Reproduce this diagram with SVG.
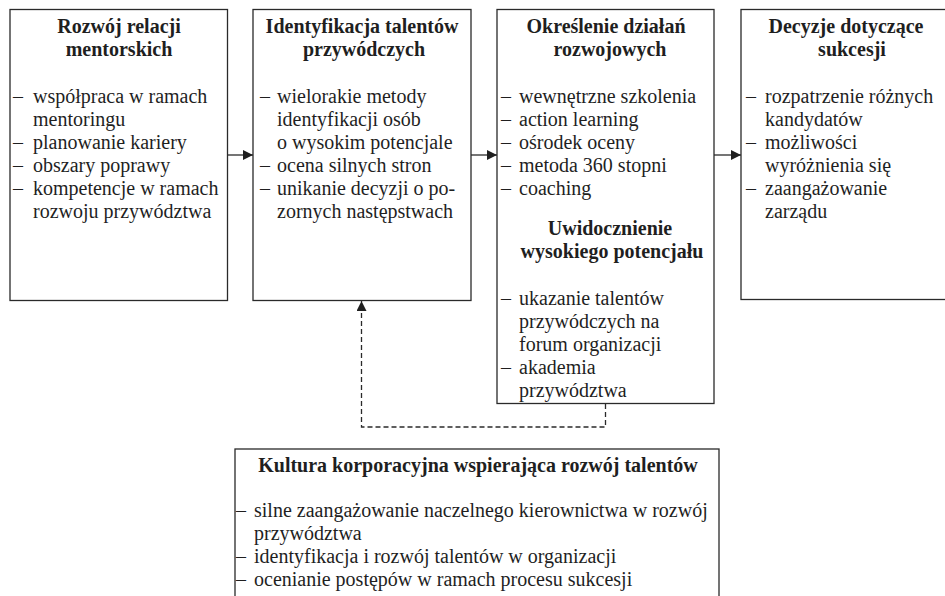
<svg xmlns="http://www.w3.org/2000/svg" width="945" height="596" viewBox="0 0 945 596">
<defs>
<style>
.box{fill:#fff;stroke:#2a2a2a;stroke-width:1.3}
text{font-family:"Liberation Serif","Times New Roman",serif;font-size:20px;fill:#1f1f1f}
.t{font-weight:bold;text-anchor:middle}
.conn{fill:none;stroke:#2a2a2a;stroke-width:1.3}
.dash{stroke-dasharray:5 3}
</style>
<marker id="ah" viewBox="0 0 10 10" refX="10" refY="5" markerWidth="10" markerHeight="10" markerUnits="userSpaceOnUse" orient="auto">
<path d="M0,0 L10,5 L0,10 z" fill="#1f1f1f"/>
</marker>
</defs>
<rect width="945" height="596" fill="#fff"/>

<g id="connectors">
<line class="conn" x1="227.5" y1="155" x2="253" y2="155" marker-end="url(#ah)"/>
<line class="conn" x1="471" y1="155" x2="497" y2="155" marker-end="url(#ah)"/>
<line class="conn" x1="714" y1="155" x2="741" y2="155" marker-end="url(#ah)"/>
<polyline class="conn dash" points="605.5,404 605.5,427 361.5,427 361.5,301" marker-end="url(#ah)"/>
</g>

<g id="node1">
<rect class="box" x="10" y="9.5" width="217.5" height="291"/>
<text class="t" x="119" y="33">Rozwój relacji</text>
<text class="t" x="119" y="56">mentorskich</text>
<text x="13" y="103">–</text><text x="33" y="103">współpraca w ramach</text>
<text x="33" y="126">mentoringu</text>
<text x="13" y="149">–</text><text x="33" y="149">planowanie kariery</text>
<text x="13" y="172">–</text><text x="33" y="172">obszary poprawy</text>
<text x="13" y="195">–</text><text x="33" y="195">kompetencje w ramach</text>
<text x="33" y="218">rozwoju przywództwa</text>
</g>

<g id="node2">
<rect class="box" x="253" y="9.5" width="218" height="291"/>
<text class="t" x="362" y="33">Identyfikacja talentów</text>
<text class="t" x="364" y="56">przywódczych</text>
<text x="260" y="103">–</text><text x="277" y="103">wielorakie metody</text>
<text x="277" y="126">identyfikacji osób</text>
<text x="277" y="149">o wysokim potencjale</text>
<text x="260" y="172">–</text><text x="277" y="172">ocena silnych stron</text>
<text x="260" y="195">–</text><text x="277" y="195">unikanie decyzji o po-</text>
<text x="277" y="218">zornych następstwach</text>
</g>

<g id="node3">
<rect class="box" x="497" y="9.5" width="217" height="394"/>
<text class="t" x="606" y="33">Określenie działań</text>
<text class="t" x="610" y="56">rozwojowych</text>
<text x="501" y="103">–</text><text x="519" y="103">wewnętrzne szkolenia</text>
<text x="501" y="126">–</text><text x="519" y="126">action learning</text>
<text x="501" y="149">–</text><text x="519" y="149">ośrodek oceny</text>
<text x="501" y="172">–</text><text x="519" y="172">metoda 360 stopni</text>
<text x="501" y="195">–</text><text x="519" y="195">coaching</text>
<text class="t" x="610" y="235">Uwidocznienie</text>
<text class="t" x="612" y="258">wysokiego potencjału</text>
<text x="501" y="305">–</text><text x="519" y="305">ukazanie talentów</text>
<text x="519" y="328">przywódczych na</text>
<text x="519" y="351">forum organizacji</text>
<text x="501" y="374">–</text><text x="519" y="374">akademia</text>
<text x="519" y="397">przywództwa</text>
</g>

<g id="node4">
<rect class="box" x="741" y="9.5" width="210" height="290"/>
<text class="t" x="846" y="33">Decyzje dotyczące</text>
<text class="t" x="852" y="56">sukcesji</text>
<text x="746" y="103">–</text><text x="765" y="103">rozpatrzenie różnych</text>
<text x="765" y="126">kandydatów</text>
<text x="746" y="149">–</text><text x="765" y="149">możliwości</text>
<text x="765" y="172">wyróżnienia się</text>
<text x="746" y="195">–</text><text x="765" y="195">zaangażowanie</text>
<text x="765" y="218">zarządu</text>
</g>

<g id="node5">
<rect class="box" x="235" y="449" width="484" height="160"/>
<text class="t" x="478" y="472">Kultura korporacyjna wspierająca rozwój talentów</text>
<text x="236" y="517">–</text><text x="254" y="517">silne zaangażowanie naczelnego kierownictwa w rozwój</text>
<text x="254" y="540">przywództwa</text>
<text x="236" y="563">–</text><text x="254" y="563">identyfikacja i rozwój talentów w organizacji</text>
<text x="236" y="586">–</text><text x="254" y="586">ocenianie postępów w ramach procesu sukcesji</text>
</g>
</svg>
